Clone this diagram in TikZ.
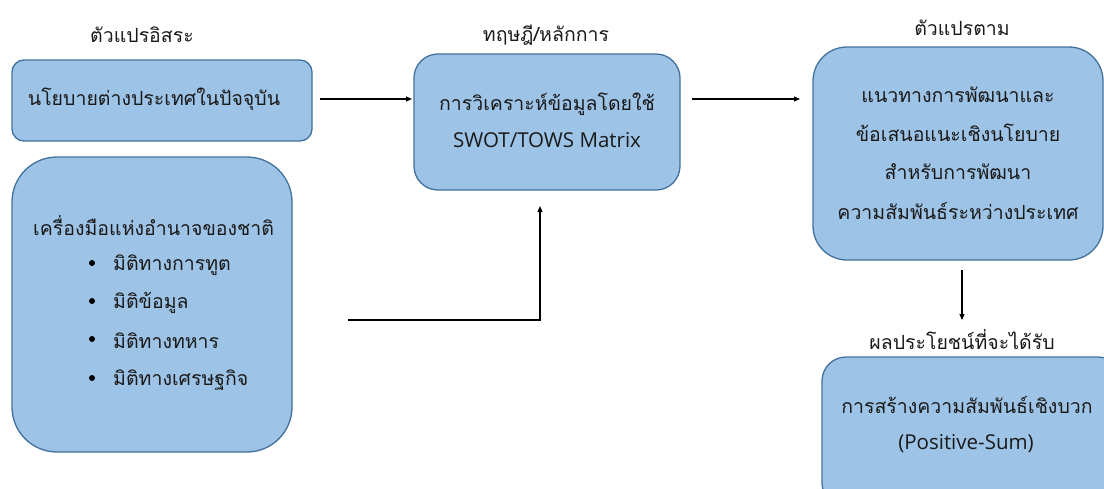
\documentclass[tikz,border=0pt]{standalone}
\usepackage{fontspec}
\setmainfont[Script=Thai]{Loma}
\newfontfamily\latinfont{Open Sans}
\usetikzlibrary{arrows.meta}
\definecolor{boxfill}{HTML}{9DC3E6}
\definecolor{boxline}{HTML}{41719C}
\definecolor{txt}{HTML}{1A1A1A}
\begin{document}
\begin{tikzpicture}[x=1pt,y=-1pt,
  box/.style={draw=boxline,fill=boxfill,line width=1.3pt,inner sep=0pt},
  lab/.style={font=\fontsize{19.5}{23}\selectfont,text=txt,inner sep=0pt},
  lat/.style={font=\fontsize{20.5}{24}\selectfont\latinfont,text=txt,inner sep=0pt},
  conn/.style={line width=1.3pt,-{Triangle[length=6pt,width=5pt]}},
  bul/.style={circle,fill=black,inner sep=0pt,minimum size=6pt}]
\useasboundingbox (0,0) rectangle (1104,488);
% boxes
\node[box,rounded corners=12pt,minimum width=300pt,minimum height=81pt] (A) at (162,100.5) {};
\node[box,rounded corners=45pt,minimum width=280pt,minimum height=295pt] (B) at (152,304.5) {};
\node[box,rounded corners=24pt,minimum width=266pt,minimum height=136pt] (C) at (547,122) {};
\node[box,rounded corners=34pt,minimum width=290pt,minimum height=213pt] (D) at (958,153.5) {};
\node[box,rounded corners=24pt,minimum width=300pt,minimum height=150pt] (E) at (972,432) {};
% headings
\node[lab] (h1) at (142,35) {ตัวแปรอิสระ};
\node[lab] (h2) at (546,35) {ทฤษฎี/หลักการ};
\node[lab] (h3) at (962,28) {ตัวแปรตาม};
\node[lab] (h4) at (962,340) {ผลประโยชน์ที่จะได้รับ};
% box texts
\node[lab] (tA) at (154,99) {นโยบายต่างประเทศในปัจจุบัน};
\node[lab] (tC1) at (547,104) {การวิเคราะห์ข้อมูลโดยใช้};
\node[lat] (tC2) at (547,140) {SWOT/TOWS Matrix};
\node[lab] (tD1) at (958,95) {แนวทางการพัฒนาและ};
\node[lab] (tD2) at (958,133) {ข้อเสนอแนะเชิงนโยบาย};
\node[lab] (tD3) at (958,172) {สำหรับการพัฒนา};
\node[lab] (tD4) at (958,211) {ความสัมพันธ์ระหว่างประเทศ};
\node[lab] (tE1) at (967,405) {การสร้างความสัมพันธ์เชิงบวก};
\node[lat] (tE2) at (966,444) {(Positive-Sum)};
\node[lab,anchor=west] (tB) at (33,226) {เครื่องมือแห่งอำนาจของชาติ};
\node[bul] (b1) at (92,263) {};
\node[bul] (b2) at (92,301) {};
\node[bul] (b3) at (92,339) {};
\node[bul] (b4) at (92,378) {};
\node[lab,anchor=west] (tB1) at (113,265) {มิติทางการทูต};
\node[lab,anchor=west] (tB2) at (113,303) {มิติข้อมูล};
\node[lab,anchor=west] (tB3) at (113,341) {มิติทางทหาร};
\node[lab,anchor=west] (tB4) at (113,380) {มิติทางเศรษฐกิจ};
% connectors
\coordinate (a1) at (320,99);
\coordinate (a2) at (412,99);
\coordinate (c1) at (692,99);
\coordinate (c2) at (800,99);
\coordinate (s1) at (348,320);
\coordinate (s2) at (540,320);
\coordinate (s3) at (540,206);
\coordinate (d1) at (962,270);
\coordinate (d2) at (962,320);
\draw[conn] (a1) -- (a2);
\draw[conn] (c1) -- (c2);
\draw[conn] (s1) -- (s2) -- (s3);
\draw[conn] (d1) -- (d2);
\end{tikzpicture}
\end{document}
